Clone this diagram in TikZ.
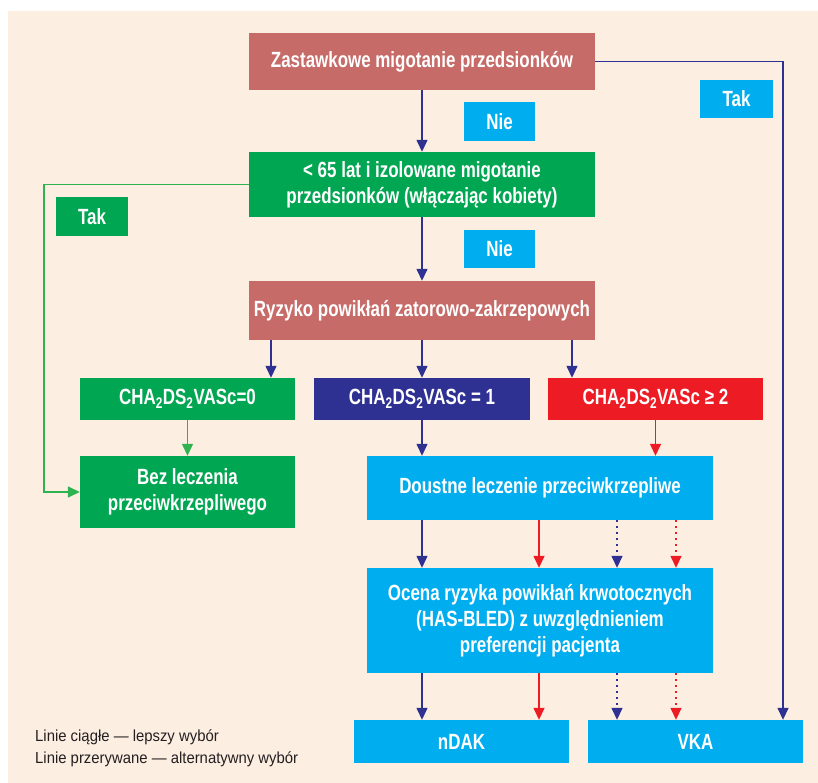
\documentclass[tikz,border=0pt]{standalone}
\usepackage{fontspec}
\setmainfont[FakeStretch=0.77]{Liberation Sans}
\newfontfamily\legendfont[FakeStretch=0.93]{Liberation Sans}
\usetikzlibrary{arrows.meta}

\definecolor{bgcream}{HTML}{FDEEE2}
\definecolor{salmon}{HTML}{C76B69}
\definecolor{boxgreen}{HTML}{00A651}
\definecolor{linegreen}{HTML}{2EB350}
\definecolor{navy}{HTML}{2E3192}
\definecolor{boxred}{HTML}{ED1C24}
\definecolor{boxcyan}{HTML}{00AEEF}
\definecolor{legendgray}{HTML}{231F20}

\tikzset{
  box/.style={fill=#1, text=white, inner sep=0pt, align=center,
    font=\fontsize{22}{26}\selectfont\bfseries},
  arr/.style={-{Triangle[length=12pt,width=11pt]}, line width=1.4pt},
  alt/.style={dash pattern=on 2pt off 4pt}
}

\begin{document}
\begin{tikzpicture}[x=1pt,y=-1pt]
  \useasboundingbox (0,0) rectangle (818,783);
  \fill[bgcream] (8,11) rectangle (818,783);

  \node[box=salmon, minimum width=346, minimum height=57] (zast) at (422,61.5) {Zastawkowe migotanie przedsionków};
  \node[box=boxcyan, minimum width=71, minimum height=39] (nie1) at (499.5,121.5) {Nie};
  \node[box=boxcyan, minimum width=73, minimum height=38] (tak1) at (736.5,99) {Tak};
  \node[box=boxgreen, minimum width=346, minimum height=65] (lt65) at (422,184.5) {< 65 lat i izolowane migotanie\\przedsionków (włączając kobiety)};
  \node[box=boxgreen, minimum width=72, minimum height=39] (tak2) at (92,216.5) {Tak};
  \node[box=boxcyan, minimum width=71, minimum height=38] (nie2) at (499.5,249) {Nie};
  \node[box=salmon, minimum width=346, minimum height=59] (ryz) at (422,310.5) {Ryzyko powikłań zatorowo-zakrzepowych};

  \node[box=boxgreen, minimum width=215, minimum height=42] (cha0) at (187.5,399) {CHA\textsubscript{2}DS\textsubscript{2}VASc=0};
  \node[box=navy, minimum width=216, minimum height=42] (cha1) at (422,399) {CHA\textsubscript{2}DS\textsubscript{2}VASc = 1};
  \node[box=boxred, minimum width=215, minimum height=42] (cha2) at (655.5,399) {CHA\textsubscript{2}DS\textsubscript{2}VASc ≥ 2};

  \node[box=boxgreen, minimum width=215, minimum height=72] (bez) at (187.5,492) {Bez leczenia\\przeciwkrzepliwego};
  \node[box=boxcyan, minimum width=346, minimum height=64] (dou) at (540,488) {Doustne leczenie przeciwkrzepliwe};
  \node[box=boxcyan, minimum width=346, minimum height=105] (oce) at (540,620.5) {Ocena ryzyka powikłań krwotocznych\\(HAS-BLED) z uwzględnieniem\\preferencji pacjenta};
  \node[box=boxcyan, minimum width=215, minimum height=43] (ndak) at (461.5,741.5) {nDAK};
  \node[box=boxcyan, minimum width=215, minimum height=43] (vka) at (695.5,741.5) {VKA};

  \node[anchor=base west, align=left, inner sep=0pt, text=legendgray,
    font=\legendfont\fontsize{16}{21.5}\selectfont] (leg) at (35,763)
    {Linie ciągłe — lepszy wybór\\Linie przerywane — alternatywny wybór};

  \coordinate (xl) at (44,0);
  \coordinate (xr) at (783,0);
  \coordinate (xa) at (271,0);
  \coordinate (xb) at (572,0);
  \coordinate (xs) at (422,0);
  \coordinate (xt) at (539,0);
  \coordinate (xu) at (617,0);
  \coordinate (xv) at (676,0);

  \draw[arr, navy] (zast) -- (lt65);
  \draw[arr, navy] (zast.east) -| (vka.north -| xr);
  \draw[arr, navy] (lt65) -- (ryz);
  \draw[arr, linegreen] (lt65.west) -| (xl |- bez.west) -- (bez.west);

  \draw[arr, navy] (ryz.south -| xa) -- (cha0.north -| xa);
  \draw[arr, navy] (ryz.south -| xs) -- (cha1.north -| xs);
  \draw[arr, navy] (ryz.south -| xb) -- (cha2.north -| xb);

  \draw[arr, linegreen] (cha0) -- (bez);
  \draw[arr, navy] (cha1.south) -- (dou.north -| cha1.south);
  \draw[arr, boxred] (cha2.south) -- (dou.north -| cha2.south);

  \draw[arr, navy] (dou.south -| xs) -- (oce.north -| xs);
  \draw[arr, boxred] (dou.south -| xt) -- (oce.north -| xt);
  \draw[arr, navy, alt] (dou.south -| xu) -- (oce.north -| xu);
  \draw[arr, boxred, alt] (dou.south -| xv) -- (oce.north -| xv);

  \draw[arr, navy] (oce.south -| xs) -- (ndak.north -| xs);
  \draw[arr, boxred] (oce.south -| xt) -- (ndak.north -| xt);
  \draw[arr, navy, alt] (oce.south -| xu) -- (vka.north -| xu);
  \draw[arr, boxred, alt] (oce.south -| xv) -- (vka.north -| xv);
\end{tikzpicture}
\end{document}
